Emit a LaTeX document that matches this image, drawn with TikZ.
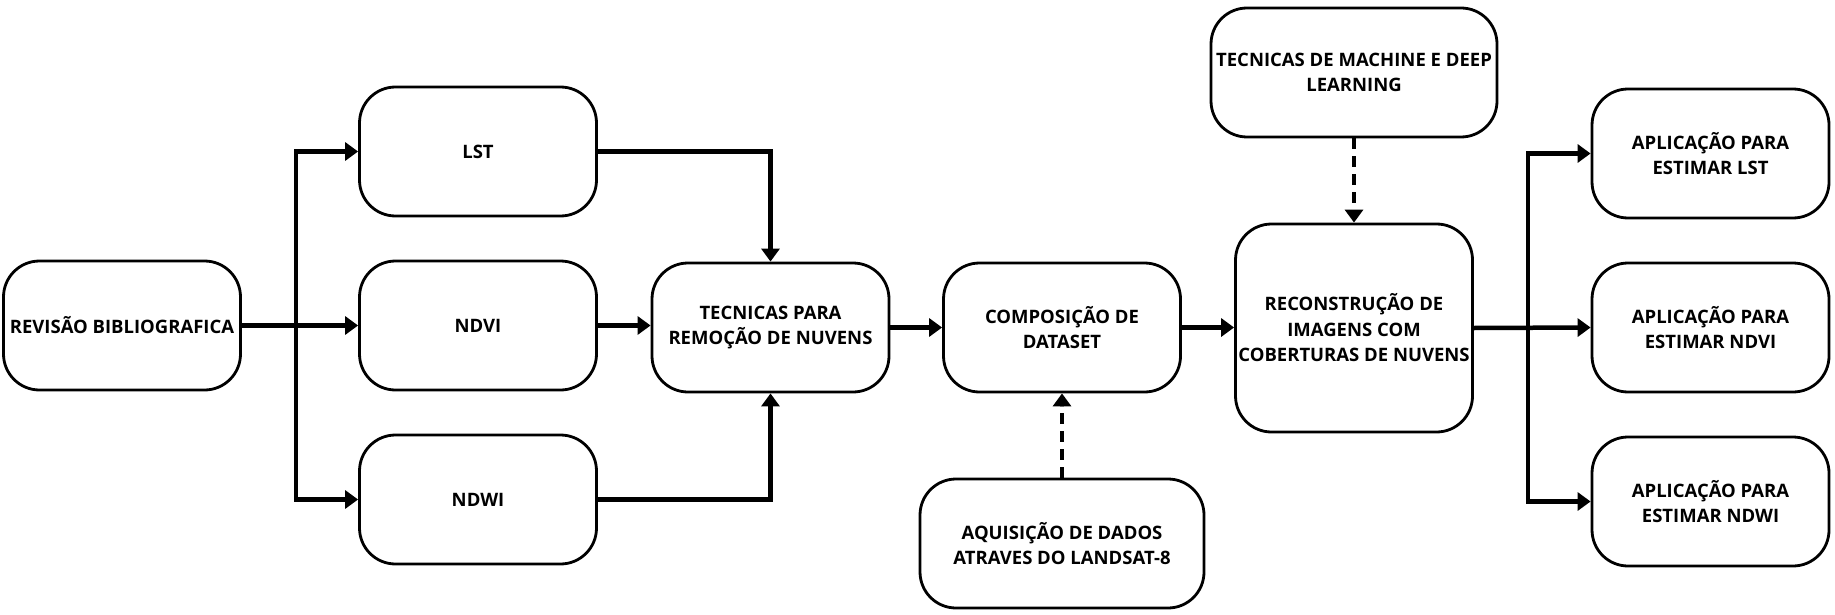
\documentclass[tikz,border=0pt]{standalone}
\usepackage{fontspec}
\setmainfont{Open Sans}
\usetikzlibrary{arrows.meta}
\begin{document}
\begin{tikzpicture}[x=1pt,y=-1pt,
  box/.style={draw=black, line width=2.8pt, rounded corners=36pt, fill=white,
    minimum width=237pt, minimum height=129pt, align=center, inner sep=2pt,
    font=\fontsize{18.5}{25.5}\selectfont\bfseries},
  conn/.style={line width=4.5pt, -{Triangle[length=13pt,width=18pt]}},
  plain/.style={line width=4.5pt},
  dconn/.style={conn, dash pattern=on 11pt off 7pt}]
\useasboundingbox (0,0) rectangle (1835,615);
\fill[white] (0,0) rectangle (1835,615);

\node[box] (rev) at (122,325.5) {REVISÃO BIBLIOGRAFICA};
\node[box] (lst) at (478,151.5) {LST};
\node[box] (ndvi) at (478,325.5) {NDVI};
\node[box] (ndwi) at (478,499.5) {NDWI};
\node[box] (tec) at (770.5,327.5) {TECNICAS PARA\\REMOÇÃO DE NUVENS};
\node[box] (comp) at (1062,327.5) {COMPOSIÇÃO DE\\DATASET};
\node[box, minimum width=284pt] (aq) at (1062,543.5) {AQUISIÇÃO DE DADOS\\ATRAVES DO LANDSAT-8};
\node[box, minimum height=208pt] (rec) at (1354,328) {RECONSTRUÇÃO DE\\IMAGENS COM\\COBERTURAS DE NUVENS};
\node[box, minimum width=286pt] (ml) at (1354,72.5) {TECNICAS DE MACHINE E DEEP\\LEARNING};
\node[box] (alst) at (1710.5,153.5) {APLICAÇÃO PARA\\ESTIMAR LST};
\node[box] (andvi) at (1710.5,327.5) {APLICAÇÃO PARA\\ESTIMAR NDVI};
\node[box] (andwi) at (1710.5,501.5) {APLICAÇÃO PARA\\ESTIMAR NDWI};

\coordinate (bl) at (296,325.5);
\coordinate (br) at (1528,327.5);

% left branch
\draw[conn] (rev.east) -- (ndvi.west);
\draw[plain, line cap=rect] (bl |- lst.west) -- (bl |- ndwi.west);
\draw[conn] (bl |- lst.west) -- (lst.west);
\draw[conn] (bl |- ndwi.west) -- (ndwi.west);

% into tecnicas
\draw[conn] (lst.east) -| (tec.north);
\draw[conn] (ndvi.east) -- (ndvi.east -| tec.west);
\draw[conn] (ndwi.east) -| (tec.south);

\draw[conn] (tec.east) -- (comp.west);
\draw[dconn] (aq.north) -- (comp.south);
\draw[conn] (comp.east) -- (rec.west |- comp.east);
\draw[dconn] (ml.south) -- (rec.north);

% right branch
\draw[conn] (rec.east) -- (andvi.west);
\draw[plain, line cap=rect] (br |- alst.west) -- (br |- andwi.west);
\draw[conn] (br |- alst.west) -- (alst.west);
\draw[conn] (br |- andwi.west) -- (andwi.west);
\end{tikzpicture}
\end{document}
